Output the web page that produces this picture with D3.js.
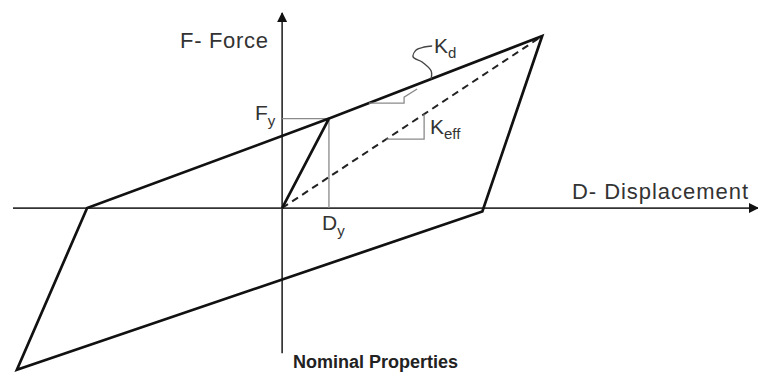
<!DOCTYPE html>
<html>
<head>
<meta charset="utf-8">
<script src="https://cdn.jsdelivr.net/npm/d3@7"></script>
<style>
  html, body { margin: 0; padding: 0; background: #fff; }
  svg { display: block; }
  text { font-family: "Liberation Sans", Arial, sans-serif; fill: #333; }
</style>
</head>
<body>
<svg id="chart" width="758" height="373"></svg>
<script>
// Bilinear hysteresis loop (displacement, force), peak normalised to 100
const loopPoints = [
  [0, 0],       // origin
  [18, 52],     // yield (Dy, Fy)
  [100, 100],   // maximum displacement / force
  [77, -2],     // unloading crosses displacement axis
  [-102, -94],  // negative peak
  [-75, 0],     // reloading crosses displacement axis
  [18, 52]      // back onto the upper branch at yield
];
const yieldPoint = [18, 52];
const peakPoint = [100, 100];
const axisD = [-103.5, 183];   // horizontal axis extent
const axisF = [-84.5, 113.4];  // vertical axis extent
const kdTriangle = { fLow: 61, dRight: 46.9, fTop: 64.5, tip: [51.9, 69.2] };
const keffTriangle = { fLow: 40.1, dRight: 54.6 };
const kdLeaderAt = 57.3;

const svg = d3.select("#chart");
const x = d3.scaleLinear().domain([-103.5, 183]).range([13, 758]);
const y = d3.scaleLinear().domain([-94, 113.4]).range([369.7, 13]);

// arrowhead
svg.append("defs").append("marker")
  .attr("id", "arrow").attr("viewBox", "0 0 10 10")
  .attr("refX", 9).attr("refY", 5)
  .attr("markerWidth", 11).attr("markerHeight", 10)
  .attr("markerUnits", "userSpaceOnUse")
  .attr("orient", "auto")
  .append("path").attr("d", "M0,0 L10,5 L0,10 Z").attr("fill", "#111");

// axes
svg.append("line")
  .attr("x1", x(axisD[0])).attr("y1", y(0))
  .attr("x2", x(axisD[1])).attr("y2", y(0))
  .attr("stroke", "#333").attr("stroke-width", 1.7)
  .attr("marker-end", "url(#arrow)");
svg.append("line")
  .attr("x1", x(0)).attr("y1", y(axisF[0]))
  .attr("x2", x(0)).attr("y2", y(axisF[1]))
  .attr("stroke", "#333").attr("stroke-width", 1.7)
  .attr("marker-end", "url(#arrow)");

// yield guide lines
const guide = "#8a8a8a";
svg.append("path")
  .attr("d", d3.line()([[x(0), y(yieldPoint[1])], [x(yieldPoint[0]), y(yieldPoint[1])], [x(yieldPoint[0]), y(0)]]))
  .attr("fill", "none").attr("stroke", guide).attr("stroke-width", 1.3);

// secant stiffness (dashed)
svg.append("line")
  .attr("x1", x(0)).attr("y1", y(0))
  .attr("x2", x(peakPoint[0])).attr("y2", y(peakPoint[1]))
  .attr("stroke", "#222").attr("stroke-width", 2)
  .attr("stroke-dasharray", "7,5");

// hysteresis loop
const line = d3.line().x(d => x(d[0])).y(d => y(d[1]));
svg.append("path")
  .attr("d", line(loopPoints))
  .attr("fill", "none").attr("stroke", "#111")
  .attr("stroke-width", 2.7).attr("stroke-linejoin", "miter");

// upper branch slope (Kd)
const kdSlope = (peakPoint[1] - yieldPoint[1]) / (peakPoint[0] - yieldPoint[0]);
const onUpper = f => yieldPoint[0] + (f - yieldPoint[1]) / kdSlope;
svg.append("path")
  .attr("d", d3.line()([
    [x(onUpper(kdTriangle.fLow)), y(kdTriangle.fLow)],
    [x(kdTriangle.dRight), y(kdTriangle.fLow)],
    [x(kdTriangle.dRight), y(kdTriangle.fTop)],
    [x(kdTriangle.tip[0]), y(kdTriangle.tip[1])]
  ]))
  .attr("fill", "none").attr("stroke", guide).attr("stroke-width", 1.3);

// secant slope triangle (Keff)
const keffSlope = peakPoint[1] / peakPoint[0];
svg.append("path")
  .attr("d", d3.line()([
    [x(keffTriangle.fLow / keffSlope), y(keffTriangle.fLow)],
    [x(keffTriangle.dRight), y(keffTriangle.fLow)],
    [x(keffTriangle.dRight), y(keffTriangle.dRight * keffSlope)]
  ]))
  .attr("fill", "none").attr("stroke", guide).attr("stroke-width", 1.3);

// Kd leader curve
const lx = x(kdLeaderAt), ly = y(yieldPoint[1] + (kdLeaderAt - yieldPoint[0]) * kdSlope);
const leader = [[0, 0], [0, -8], [-9, -17], [-18, -22], [-15, -29], [-7, -32], [1, -33]]
  .map(p => [lx + p[0], ly + p[1]]);
svg.append("path")
  .attr("d", d3.line().curve(d3.curveCatmullRom)(leader))
  .attr("fill", "none").attr("stroke", "#444").attr("stroke-width", 1.4);

// labels
function label(tx, ty, main, sub, size, subSize, subDx, subDy) {
  const t = svg.append("text").attr("x", tx).attr("y", ty).style("font-size", size + "px");
  t.append("tspan").text(main);
  if (sub) t.append("tspan").attr("dx", subDx).attr("dy", subDy)
    .style("font-size", subSize + "px").text(sub);
  return t;
}
label(180, 48, "F- Force", null, 22).attr("textLength", 88);
label(572, 199, "D- Displacement", null, 22).attr("textLength", 176);
label(255, 120, "F", "y", 21, 15, 0, 6);
label(322, 230, "D", "y", 21, 15, 0, 6);
label(434, 53, "K", "d", 21, 15, 0, 5);
label(430, 134, "K", "eff", 21, 15, 0, 5);
svg.append("text").attr("x", 293).attr("y", 368)
  .style("font-size", "18px").style("font-weight", "bold").style("fill", "#222")
  .text("Nominal Properties");
</script>
</body>
</html>
